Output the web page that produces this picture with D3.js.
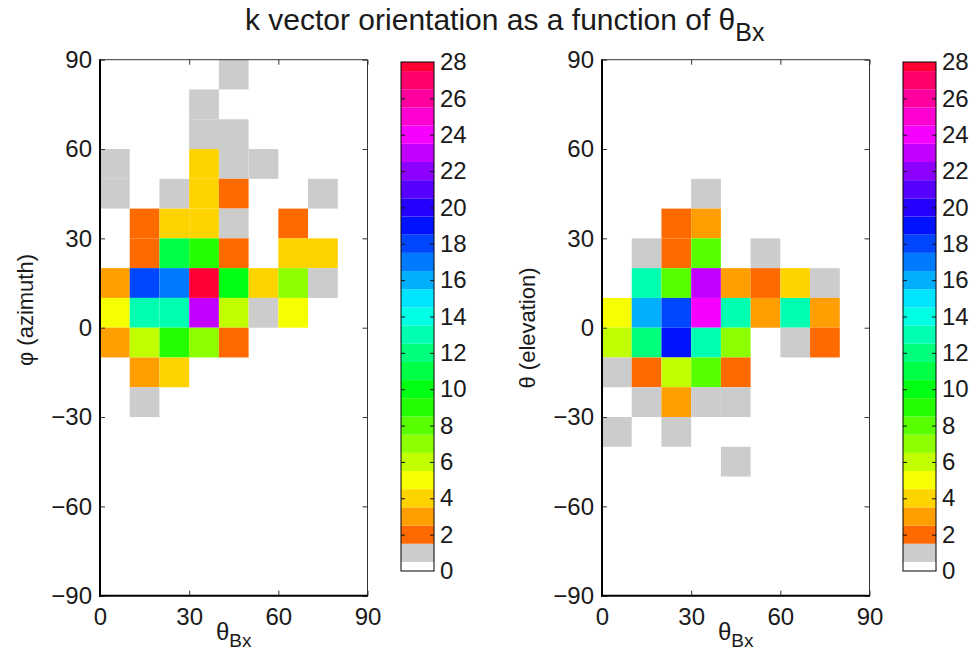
<!DOCTYPE html>
<html><head><meta charset="utf-8">
<script src="https://cdn.jsdelivr.net/npm/d3@7"></script>
<style>
body{margin:0;background:#fff}
svg{display:block}
text{font-family:"Liberation Sans",Arial,Helvetica,sans-serif;fill:#1a1a1a}
</style>
</head><body>
<svg id="c" width="974" height="651"></svg>
<script>
// ---------- data ----------
const thetaBxBins = [0, 10, 20, 30, 40, 50, 60, 70, 80];          // lower edge of each θBx bin (deg)
const angleBins = [80, 70, 60, 50, 40, 30, 20, 10, 0, -10, -20, -30, -40, -50, -60, -70, -80, -90]; // lower edge of each angle bin
// counts per angle bin (rows, top to bottom) and θBx bin (columns)
const azimuthCounts = [
  [0, 0, 0, 0, 1, 0, 0, 0, 0],
  [0, 0, 0, 1, 0, 0, 0, 0, 0],
  [0, 0, 0, 1, 1, 0, 0, 0, 0],
  [1, 0, 0, 4, 1, 1, 0, 0, 0],
  [1, 0, 1, 4, 2, 0, 0, 1, 0],
  [0, 2, 4, 4, 1, 0, 2, 0, 0],
  [0, 2, 11, 9, 2, 0, 4, 4, 0],
  [3, 18, 17, 28, 10, 4, 7, 1, 0],
  [5, 13, 13, 23, 6, 1, 5, 0, 0],
  [3, 6, 9, 7, 2, 0, 0, 0, 0],
  [0, 3, 4, 0, 0, 0, 0, 0, 0],
  [0, 1, 0, 0, 0, 0, 0, 0, 0],
  [0, 0, 0, 0, 0, 0, 0, 0, 0],
  [0, 0, 0, 0, 0, 0, 0, 0, 0],
  [0, 0, 0, 0, 0, 0, 0, 0, 0],
  [0, 0, 0, 0, 0, 0, 0, 0, 0],
  [0, 0, 0, 0, 0, 0, 0, 0, 0],
  [0, 0, 0, 0, 0, 0, 0, 0, 0]
];
const elevationCounts = [
  [0, 0, 0, 0, 0, 0, 0, 0, 0],
  [0, 0, 0, 0, 0, 0, 0, 0, 0],
  [0, 0, 0, 0, 0, 0, 0, 0, 0],
  [0, 0, 0, 0, 0, 0, 0, 0, 0],
  [0, 0, 0, 1, 0, 0, 0, 0, 0],
  [0, 0, 2, 3, 0, 0, 0, 0, 0],
  [0, 1, 2, 8, 0, 1, 0, 0, 0],
  [0, 13, 8, 23, 3, 2, 4, 1, 0],
  [5, 16, 18, 24, 13, 3, 13, 3, 0],
  [6, 12, 19, 13, 7, 0, 1, 2, 0],
  [1, 2, 6, 8, 2, 0, 0, 0, 0],
  [0, 1, 3, 1, 1, 0, 0, 0, 0],
  [1, 0, 1, 0, 0, 0, 0, 0, 0],
  [0, 0, 0, 0, 1, 0, 0, 0, 0],
  [0, 0, 0, 0, 0, 0, 0, 0, 0],
  [0, 0, 0, 0, 0, 0, 0, 0, 0],
  [0, 0, 0, 0, 0, 0, 0, 0, 0],
  [0, 0, 0, 0, 0, 0, 0, 0, 0]
];
const xTicks = [0, 30, 60, 90];
const yTicks = [-90, -60, -30, 0, 30, 60, 90];
const cbTicks = [0, 2, 4, 6, 8, 10, 12, 14, 16, 18, 20, 22, 24, 26, 28];
const cbLevels = [0,1,2,3,4,5,6,7,8,9,10,11,12,13,14,15,16,17,18,19,20,21,22,23,24,25,26,27,28];
const binWidth = 10;
const cMax = 28;

// ---------- colours: white, grey, then MATLAB hsv(29) from index 2 ----------
function colorOf(v) {
  if (v <= 0) return "#ffffff";
  if (v === 1) return "#cccccc";
  return d3.hsl(v * 360 / 29, 1, 0.5).formatHex();
}

const svg = d3.select("#c");
const FS = 24;

function panel(cfg) {
  const x = d3.scaleLinear().domain([0, 90]).range([cfg.x0, cfg.x1]);
  const y = d3.scaleLinear().domain([-90, 90]).range([cfg.yb, cfg.yt]);
  const g = svg.append("g");

  // cells
  const cells = [];
  cfg.counts.forEach((row, i) => row.forEach((v, j) => {
    if (v > 0) cells.push({ a: angleBins[i], t: thetaBxBins[j], v });
  }));
  g.selectAll("rect.cell").data(cells).join("rect")
    .attr("class", "cell")
    .attr("x", d => x(d.t))
    .attr("y", d => y(d.a + binWidth))
    .attr("width", d => x(d.t + binWidth) - x(d.t))
    .attr("height", d => y(d.a) - y(d.a + binWidth))
    .attr("fill", d => colorOf(d.v));

  // axes
  const fmt = d => d < 0 ? "\u2212" + Math.abs(d) : String(d);
  const ax = (gen, tr) => {
    const a = g.append("g").attr("transform", tr).call(gen);
    a.select(".domain").remove();
    a.selectAll(".tick line").attr("stroke", "#333").attr("stroke-width", 1);
    a.selectAll("text").attr("font-size", FS).attr("fill", "#1a1a1a").attr("font-family", null);
    return a;
  };
  ax(d3.axisLeft(y).tickValues(yTicks).tickSize(-5).tickPadding(8).tickFormat(fmt), `translate(${cfg.x0},0)`);
  ax(d3.axisRight(y).tickValues(yTicks).tickSize(-5).tickFormat(""), `translate(${cfg.x1},0)`);
  ax(d3.axisBottom(x).tickValues(xTicks).tickSize(-5).tickPadding(12).tickFormat(fmt), `translate(0,${cfg.yb})`);
  ax(d3.axisTop(x).tickValues(xTicks).tickSize(-5).tickFormat(""), `translate(0,${cfg.yt})`);

  // box
  g.append("line").attr("x1", cfg.x0).attr("x2", cfg.x1).attr("y1", cfg.yt).attr("y2", cfg.yt).attr("stroke", "#333").attr("stroke-width", 1);
  g.append("line").attr("x1", cfg.x1).attr("x2", cfg.x1).attr("y1", cfg.yt).attr("y2", cfg.yb).attr("stroke", "#333").attr("stroke-width", 1);
  g.append("line").attr("x1", cfg.x0).attr("x2", cfg.x0).attr("y1", cfg.yt - 0.5).attr("y2", cfg.yb + 1).attr("stroke", "#000").attr("stroke-width", 2);
  g.append("line").attr("x1", cfg.x0 - 1).attr("x2", cfg.x1 + 0.5).attr("y1", cfg.yb).attr("y2", cfg.yb).attr("stroke", "#000").attr("stroke-width", 2);

  // y label
  g.append("text")
    .attr("transform", `translate(${cfg.x0 - 67},${cfg.ylabY}) rotate(-90)`)
    .attr("text-anchor", "middle").attr("font-size", 22)
    .text(cfg.ylabel);

  // x label θBx
  const xl = g.append("text").attr("x", (cfg.x0 + cfg.x1) / 2).attr("y", 640)
    .attr("text-anchor", "middle").attr("font-size", FS);
  xl.append("tspan").text("\u03b8");
  xl.append("tspan").attr("dy", 7).attr("font-size", 19).text("Bx");

  // colorbar
  const c = d3.scaleLinear().domain([0, cMax]).range([cfg.cbBot, cfg.cbTop]);
  const cb = svg.append("g");
  cb.selectAll("rect.band").data(cbLevels).join("rect")
    .attr("class", "band")
    .attr("x", cfg.cbx0).attr("width", cfg.cbx1 - cfg.cbx0)
    .attr("y", d => c(Math.min(cMax, d + 0.5)))
    .attr("height", d => c(Math.max(0, d - 0.5)) - c(Math.min(cMax, d + 0.5)))
    .attr("fill", d => colorOf(d));
  const inner = cbTicks.filter(t => t > 0 && t < cMax);
  const la = cb.append("g").attr("transform", `translate(${cfg.cbx0},0)`)
    .call(d3.axisLeft(c).tickValues(inner).tickSize(-4).tickFormat(""));
  la.select(".domain").remove();
  la.selectAll(".tick line").attr("stroke", "#111");
  const ra = cb.append("g").attr("transform", `translate(${cfg.cbx1},0)`)
    .call(d3.axisRight(c).tickValues(cbTicks).tickSize(-4).tickPadding(6).tickFormat(d => String(d)));
  ra.select(".domain").remove();
  ra.selectAll(".tick line").attr("stroke", "#111").attr("opacity", d => (d > 0 && d < cMax) ? 1 : 0);
  ra.selectAll("text").attr("font-size", FS).attr("fill", "#1a1a1a").attr("font-family", null);
  cb.append("rect").attr("x", cfg.cbx0).attr("y", cfg.cbTop)
    .attr("width", cfg.cbx1 - cfg.cbx0).attr("height", cfg.cbBot - cfg.cbTop)
    .attr("fill", "none").attr("stroke", "#000").attr("stroke-width", 1);
}

panel({ counts: azimuthCounts, x0: 100, x1: 367.5, yt: 59.7, yb: 595.7,
        ylabel: "\u03c6 (azimuth)", ylabY: 310,
        cbx0: 401, cbx1: 434, cbTop: 62, cbBot: 571 });
panel({ counts: elevationCounts, x0: 602, x1: 869.5, yt: 59.7, yb: 595.7,
        ylabel: "\u03b8 (elevation)", ylabY: 328,
        cbx0: 903, cbx1: 936, cbTop: 62, cbBot: 571 });

// title
const title = svg.append("text").attr("x", 245).attr("y", 30)
  .attr("text-anchor", "start").attr("font-size", 30);
title.append("tspan").text("k vector orientation as a function of \u03b8");
title.append("tspan").attr("dy", 11).attr("font-size", 25).text("Bx");
</script>
</body></html>
